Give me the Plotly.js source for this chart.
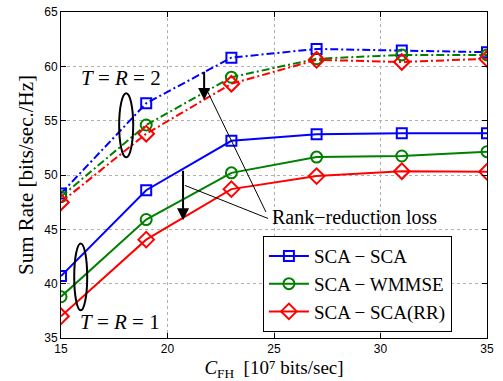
<!DOCTYPE html>
<html>
<head>
<script src="https://cdn.plot.ly/plotly-3.0.1.min.js"></script>
<style>body{margin:0;background:#fff}</style>
</head>
<body>
<div id="chart" style="width:503px;height:381px"></div>
<script>
var cfh = [15, 19, 23, 27, 31, 35];
// T = R = 2
var scaSca2   = [48.3, 56.6, 60.8, 61.6, 61.45, 61.3];
var scaWmmse2 = [48.0, 54.6, 59.0, 60.7, 61.05, 61.05];
var scaRR2    = [47.5, 53.8, 58.4, 60.6, 60.4, 60.7];
// T = R = 1
var scaSca1   = [40.7, 48.6, 53.15, 53.75, 53.85, 53.85];
var scaWmmse1 = [38.8, 45.9, 50.2, 51.65, 51.75, 52.15];
var scaRR1    = [37.0, 44.05, 48.7, 49.9, 50.35, 50.3];
var names = ['SCA \u2212 SCA', 'SCA \u2212 WMMSE', 'SCA \u2212 SCA(RR)'];

var colors = ['#0000ff', '#008000', '#ff0000'];
var symbols = ['square-open', 'circle-open', 'diamond-open'];
var sizes = [10, 11, 12];
var dashPat = '8px,3px,2px,3px';

var traces = [];
var set1 = [scaSca1, scaWmmse1, scaRR1];
var set2 = [scaSca2, scaWmmse2, scaRR2];
for (var i = 0; i < 3; i++) {
  traces.push({
    x: cfh, y: set2[i], type: 'scatter', mode: 'lines+markers',
    showlegend: false,
    line: {color: colors[i], width: 2, dash: dashPat},
    marker: {symbol: symbols[i], size: sizes[i], color: colors[i], line: {width: 2, color: colors[i]}}
  });
}
for (var i = 0; i < 3; i++) {
  traces.push({
    x: cfh, y: set1[i], type: 'scatter', mode: 'lines+markers',
    name: '<span style="font-family:\'Liberation Serif\',serif">' + names[i] + '</span>',
    line: {color: colors[i], width: 2},
    marker: {symbol: symbols[i], size: sizes[i], color: colors[i], line: {width: 2, color: colors[i]}}
  });
}

var serif = 'Liberation Serif';
var sans = 'Liberation Sans';
var layout = {
  width: 503, height: 381,
  margin: {l: 61, r: 16, t: 12, b: 43},
  paper_bgcolor: '#fff', plot_bgcolor: '#fff',
  font: {family: serif, color: '#000'},
  showlegend: true,
  legend: {
    x: 0.474, y: 0.018, xanchor: 'left', yanchor: 'bottom',
    bgcolor: '#fff', bordercolor: '#000', borderwidth: 1,
    font: {family: serif, size: 19, color: '#000'},
    tracegroupgap: 0, itemwidth: 40
  },
  xaxis: {
    range: [15, 35], tickvals: [15, 20, 25, 30, 35],
    showgrid: true, gridcolor: '#b0b0b0', griddash: 'dot', gridwidth: 1,
    zeroline: false, showline: true, linecolor: '#000', linewidth: 1, mirror: 'ticks',
    ticks: 'inside', ticklen: 5, tickcolor: '#000',
    tickfont: {family: sans, size: 12, color: '#000'},
    title: {text: '<i>C</i><sub>FH</sub>  [10\u2077 bits/sec]', font: {family: serif, size: 19, color: '#000'}, standoff: 8}
  },
  yaxis: {
    range: [35, 65], tickvals: [35, 40, 45, 50, 55, 60, 65],
    showgrid: true, gridcolor: '#b0b0b0', griddash: 'dot', gridwidth: 1,
    zeroline: false, showline: true, linecolor: '#000', linewidth: 1, mirror: 'ticks',
    ticks: 'inside', ticklen: 5, tickcolor: '#000',
    tickfont: {family: sans, size: 12, color: '#000'},
    title: {text: 'Sum Rate [bits/sec./Hz]', font: {family: serif, size: 21, color: '#000'}, standoff: 4}
  },
  shapes: [
    {type: 'circle', xref: 'x', yref: 'y', x0: 17.73, x1: 18.39, y0: 51.63, y1: 57.52, line: {color: '#000', width: 2}},
    {type: 'circle', xref: 'x', yref: 'y', x0: 15.62, x1: 16.23, y0: 37.55, y1: 43.7, line: {color: '#000', width: 2}},
    {type: 'line', xref: 'x', yref: 'y', x0: 24.62, y0: 46.6, x1: 21.81, y1: 57.97, line: {color: '#000', width: 1}},
    {type: 'line', xref: 'x', yref: 'y', x0: 24.72, y0: 46.0, x1: 20.82, y1: 49.04, line: {color: '#000', width: 1}}
  ],
  annotations: [
    {x: 21.72, y: 56.9, ax: 21.72, ay: 59.64, xref: 'x', yref: 'y', axref: 'x', ayref: 'y',
     showarrow: true, arrowhead: 2, arrowsize: 1.2, arrowwidth: 2, arrowcolor: '#000', text: ''},
    {x: 20.73, y: 45.84, ax: 20.73, ay: 50.53, xref: 'x', yref: 'y', axref: 'x', ayref: 'y',
     showarrow: true, arrowhead: 2, arrowsize: 1.2, arrowwidth: 2, arrowcolor: '#000', text: ''},
    {x: 17.8, y: 58.9, xref: 'x', yref: 'y', showarrow: false,
     text: '<i>T</i> = <i>R</i> = 2', font: {family: serif, size: 21, color: '#000'}},
    {x: 17.75, y: 36.5, xref: 'x', yref: 'y', showarrow: false,
     text: '<i>T</i> = <i>R</i> = 1', font: {family: serif, size: 21, color: '#000'}},
    {x: 24.8, y: 46.1, xref: 'x', yref: 'y', xanchor: 'left', showarrow: false,
     text: 'Rank\u2212reduction loss', font: {family: serif, size: 20, color: '#000'}}
  ]
};
Plotly.newPlot('chart', traces, layout, {staticPlot: true, displayModeBar: false});
</script>
</body>
</html>
